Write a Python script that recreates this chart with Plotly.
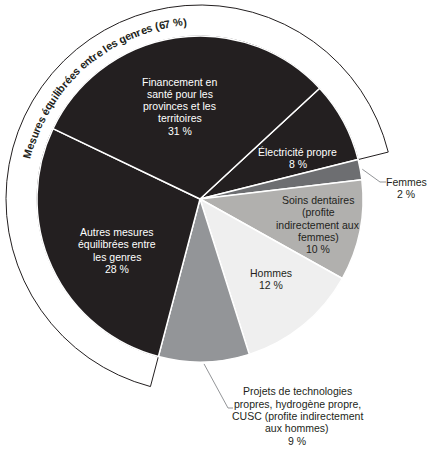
import numpy as np
import plotly.graph_objects as go

# slices, clockwise from the "Électricité propre" slice
labels = ['Électricité propre', 'Femmes', 'Soins dentaires', 'Hommes',
          'Projets de technologies propres', 'Autres mesures', 'Financement en santé']
label_text = ['Électricité propre<br>8 %',
              'Femmes<br>2 %',
              'Soins dentaires<br>(profite<br>indirectement aux<br>femmes)<br>10 %',
              'Hommes<br>12 %',
              'Projets de technologies<br>propres, hydrogène propre,<br>CUSC (profite indirectement<br>aux hommes)<br>9 %',
              'Autres mesures<br>équilibrées entre<br>les genres<br>28 %',
              'Financement en<br>santé pour les<br>provinces et les<br>territoires<br>31 %']
values = [8, 2, 10, 12, 9, 28, 31]
colors = ['#231f20', '#6d6e71', '#b1b0ae', '#efefef', '#939598', '#231f20', '#231f20']
text_colors = ['white', '#231f20', '#231f20', '#231f20', '#231f20', 'white', 'white']

ring_label = 'Mesures équilibrées entre les genres (67 %)'
ring_value = 67

W, H = 429, 452
cx, cy = 200, 199      # pie centre in px
r_pie, r_ring = 163, 194
start = 47.2           # first slice starts here, degrees clockwise from 12 o'clock
line_h = 12.3          # label line spacing in px


def px(x, y):
    return x / W, 1 - y / H


def polar(ang, r):
    a = np.radians(ang)
    return cx + r * np.sin(a), cy - r * np.cos(a)


total = sum(values)
edges = start + np.concatenate([[0], np.cumsum(values)]) * 360 / total
mids = (edges[:-1] + edges[1:]) / 2

fig = go.Figure()

# outer ring around the gender-balanced measures
ring_start = edges[5]
fig.add_trace(go.Pie(
    values=[ring_value, total - ring_value], sort=False, direction='clockwise',
    rotation=ring_start, hole=r_pie / r_ring,
    marker=dict(colors=['white', 'rgba(0,0,0,0)'],
                line=dict(color=['#231f20', 'rgba(0,0,0,0)'], width=1)),
    textinfo='none', hoverinfo='skip', showlegend=False,
    domain=dict(x=[(cx - r_ring) / W, (cx + r_ring) / W],
                y=[1 - (cy + r_ring) / H, 1 - (cy - r_ring) / H])))

fig.add_trace(go.Pie(
    labels=labels, values=values, sort=False, direction='clockwise',
    rotation=start,
    marker=dict(colors=colors, line=dict(color='white', width=1.5)),
    textinfo='none', hoverinfo='label+value', showlegend=False,
    domain=dict(x=[(cx - r_pie) / W, (cx + r_pie) / W],
                y=[1 - (cy + r_pie) / H, 1 - (cy - r_pie) / H])))

annotations = []
font_family = 'Liberation Sans, Arial, sans-serif'


def add_label(text, x, y, color):
    # one annotation per line so the line spacing can be tightened
    lines = text.split('<br>')
    n = len(lines)
    for k, ln in enumerate(lines):
        xp, yp = px(x, y + (k - (n - 1) / 2) * line_h)
        annotations.append(dict(x=xp, y=yp, xref='paper', yref='paper', text=ln,
                                showarrow=False, xanchor='center', yanchor='middle',
                                font=dict(family=font_family, size=10.5, color=color)))


# inside labels: angle nudge and radius per slice (None = outside label)
label_pos = [(5.7, 106), None, (1.0, 121), (-2.5, 107), None, (-7.0, 98), (-3.6, 95)]
for i, pos in enumerate(label_pos):
    if pos is None:
        continue
    x, y = polar(mids[i] + pos[0], pos[1])
    add_label(label_text[i], x, y, text_colors[i])

# outside labels with leader lines
shapes = []
outside = {1: dict(text_xy=(406, 188), elbow=(380, 182), end=(386, 182)),
           4: dict(text_xy=(297, 416), elbow=(228, 408), end=(233, 408))}
for i, o in outside.items():
    x0, y0 = polar(mids[i], r_pie + 2)
    p0 = px(x0, y0)
    p1 = px(*o['elbow'])
    p2 = px(*o['end'])
    shapes.append(dict(type='path', xref='paper', yref='paper',
                       path=f'M {p0[0]},{p0[1]} L {p1[0]},{p1[1]} L {p2[0]},{p2[1]}',
                       line=dict(color='#939598', width=1)))
    add_label(label_text[i], *o['text_xy'], '#231f20')

# curved ring title, one character at a time
bold_w = {'M': 833, 'e': 556, 's': 556, 'u': 611, 'r': 389, ' ': 278, 'é': 556, 'q': 611,
          'i': 278, 'l': 278, 'b': 611, 'n': 611, 't': 333, 'g': 611, '(': 333, ')': 333,
          '6': 556, '7': 556, '%': 889}
ring_size = 10.8
r_text = 178
widths = np.array([bold_w.get(c, 556) for c in ring_label]) * ring_size / 1000
centres = np.cumsum(widths) - widths / 2 - widths.sum() / 2
mid_ang = 319.5
for c, s in zip(ring_label, centres):
    if c == ' ':
        continue
    ang = mid_ang + np.degrees(s / r_text)
    x, y = polar(ang, r_text)
    xp, yp = px(x, y)
    rot = ang - 360 if ang > 180 else ang
    annotations.append(dict(x=xp, y=yp, xref='paper', yref='paper', text=f'<b>{c}</b>',
                            showarrow=False, xanchor='center', yanchor='middle',
                            textangle=rot,
                            font=dict(family=font_family, size=ring_size, color='#231f20')))

fig.update_layout(
    width=W, height=H, autosize=False,
    margin=dict(l=0, r=0, t=0, b=0),
    paper_bgcolor='white', plot_bgcolor='white',
    annotations=annotations, shapes=shapes,
)

# the page's default body margin would shift the figure by 8 px
fig.write_html('out.html', config={'displayModeBar': False},
               post_script="document.body.style.margin='0';")
